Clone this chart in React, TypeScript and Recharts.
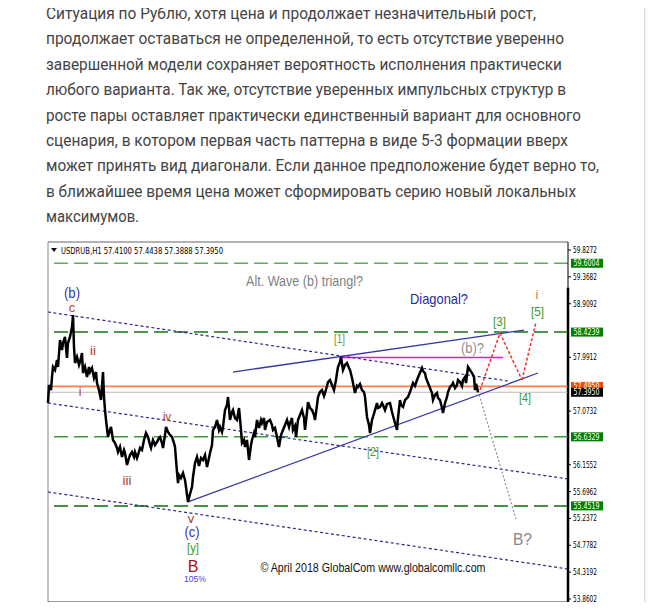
import React from "react";
import { ComposedChart, Line, XAxis, YAxis, ReferenceLine, ReferenceDot } from "recharts";

// USDRUB H1, bar index counted from 7 Feb 2018 and the traced price at that bar
const hours = [
  0, 1, 3, 4, 5, 7, 9, 10, 12, 14, 15, 17, 19, 20, 22, 24, 25, 26, 27, 29, 31, 32, 34, 35, 37, 39, 41, 42, 44, 46,
  48, 49, 51, 53, 55, 56, 57, 58, 60, 62, 63, 65, 67, 69, 70, 72, 74, 76, 77, 79, 81, 82, 84, 86, 87, 89, 90, 92,
  94, 96, 98, 100, 102, 103, 105, 107, 109, 111, 112, 114, 115, 117, 118, 120, 122, 124, 126, 127, 129, 130, 131,
  133, 135, 137, 138, 139, 140, 142, 144, 145, 147, 149, 151, 153, 155, 157, 159, 161, 162, 164, 165, 167, 169,
  171, 172, 174, 175, 177, 179, 180, 182, 184, 185, 187, 189, 191, 193, 194, 196, 197, 199, 201, 203, 204, 206,
  207, 209, 211, 213, 214, 216, 217, 219, 222, 224, 225, 227, 229, 231, 233, 235, 237, 239, 241, 242, 244, 245,
  247, 248, 250, 252, 254, 256, 257, 259, 260, 262, 264, 266, 267, 269, 270, 272, 274, 276, 277, 279, 280, 282,
  284, 286, 288, 289, 290, 292, 293, 295, 297, 299, 301, 302, 304, 305, 307, 309, 310, 312, 314, 316, 317, 319,
  321, 322, 324, 325, 327, 329, 330, 332, 334, 335, 337, 339, 342, 344, 347, 349, 350, 352, 353, 355, 357, 360,
  362, 365, 367, 369, 371, 374, 375, 377, 378, 380, 382, 384, 385, 387, 389, 390, 392, 394, 395, 397, 399, 400,
  402, 404, 405, 407, 409, 410, 412, 414, 415, 417, 418, 420, 422, 424, 426, 427, 428, 429, 430,
];
const price = [
  57.211, 57.519, 57.433, 57.656, 57.827, 57.775, 57.946, 57.827, 58.288, 58.117, 58.237, 58.34, 57.981, 58.237,
  58.34, 58.511, 58.716, 58.169, 57.895, 57.998, 57.861, 57.912, 58.066, 57.724, 57.827, 57.656, 57.827, 57.741,
  57.81, 57.639, 57.741, 57.553, 57.433, 57.262, 57.741, 57.314, 57.091, 56.921, 56.63, 56.75, 56.801, 56.579,
  56.527, 56.442, 56.373, 56.459, 56.288, 56.408, 56.356, 56.151, 56.271, 56.322, 56.373, 56.288, 56.373, 56.271,
  56.322, 56.442, 56.408, 56.579, 56.698, 56.63, 56.493, 56.442, 56.579, 56.493, 56.544, 56.613, 56.63, 56.527,
  56.442, 56.664, 56.801, 56.715, 56.664, 56.63, 56.527, 56.459, 56.031, 55.843, 55.98, 55.929, 56.014, 55.895,
  55.775, 55.639, 55.519, 55.656, 55.775, 55.946, 56.185, 56.288, 56.134, 56.271, 56.237, 56.322, 56.117, 56.271,
  56.356, 56.493, 56.75, 56.801, 56.921, 56.75, 56.801, 56.715, 56.801, 57.091, 57.177, 57.314, 56.921, 57.057,
  57.091, 56.955, 56.921, 57.126, 56.75, 56.527, 56.579, 56.459, 56.579, 56.237, 56.493, 56.579, 56.698, 56.63,
  56.921, 56.784, 56.921, 56.869, 56.955, 56.75, 56.886, 56.921, 56.835, 56.75, 56.784, 56.63, 56.459, 56.664,
  56.75, 56.835, 56.921, 56.801, 56.869, 56.955, 56.75, 56.818, 56.63, 56.921, 57.006, 57.091, 56.955, 56.75,
  57.057, 57.228, 57.126, 57.091, 57.006, 56.921, 57.177, 57.314, 57.399, 57.433, 57.331, 57.382, 57.502, 57.57,
  57.604, 57.519, 57.433, 57.604, 57.724, 57.827, 57.912, 57.998, 57.775, 57.861, 57.895, 57.81, 57.775, 57.639,
  57.553, 57.382, 57.502, 57.485, 57.536, 57.433, 57.399, 57.314, 56.972, 56.835, 56.698, 56.921, 56.972, 57.091,
  57.211, 57.126, 57.143, 57.211, 57.177, 57.091, 57.194, 57.211, 57.057, 56.869, 56.75, 56.955, 57.262, 57.177,
  57.143, 57.262, 57.314, 57.399, 57.553, 57.502, 57.604, 57.69, 57.81, 57.758, 57.724, 57.639, 57.553, 57.468,
  57.382, 57.262, 57.348, 57.382, 57.297, 57.262, 57.126, 57.04, 57.211, 57.314, 57.399, 57.485, 57.519, 57.553,
  57.468, 57.519, 57.604, 57.57, 57.502, 57.604, 57.656, 57.553, 57.827, 57.775, 57.724, 57.656, 57.433, 57.536,
  57.485, 57.395,
];

const timeTicks = [0, 52, 104, 156, 209, 261, 312, 364, 416];
const timeLabels = [
  "7 Feb 2018", "14 Feb 12:00", "20 Feb 21:00", "28 Feb 15:00", "7 Mar 09:00",
  "14 Mar 17:00", "21 Mar 11:00", "27 Mar 21:00", "3 Apr 20:00",
];
const priceTicks = [59.8272, 59.3682, 58.9092, 57.9912, 57.0732, 56.1552, 55.6962, 55.2372, 54.7782, 54.3192, 53.8602];
const greenLevels = [59.6004, 58.4239, 56.6329, 55.4519];
const greenColors = ["#5cae5c", "#167816", "#3c9a3c", "#0b6e0b"];
const askLevel = 57.495;
const bidLevel = 57.395;
const b1Level = 57.99;

// wave-count drawing objects, in (bar, price)
const upperWedge = [{ x: 185, y: 57.741 }, { x: 476, y: 58.459 }];
const lowerWedge = [{ x: 140, y: 55.519 }, { x: 490, y: 57.724 }];
const channelTop = [{ x: 0, y: 58.767 }, { x: 460, y: 57.587 }];
const channelMid = [{ x: 0, y: 57.211 }, { x: 520, y: 55.912 }];
const channelLow = [{ x: 0, y: 55.69 }, { x: 520, y: 54.373 }];
const altPath = [{ x: 430, y: 57.416 }, { x: 468, y: 55.228 }];
const mainPath = [
  { x: 432, y: 57.433 },
  { x: 452, y: 58.408 },
  { x: 474, y: 57.604 },
  { x: 488, y: 58.596 },
];

const notes = [
  { t: 24, p: 59.1, text: "(b)", color: "#3636a8", size: 14, w: 16 },
  { t: 24, p: 58.85, text: "c", color: "#c8412a", size: 13 },
  { t: 45, p: 58.1, text: "ii", color: "#a83a2a", size: 12, w: 6 },
  { t: 32, p: 57.4, text: "i", color: "#a83a2a", size: 12 },
  { t: 119, p: 56.972, text: "iv", color: "#a83a2a", size: 12, w: 8 },
  { t: 79, p: 55.878, text: "iii", color: "#a83a2a", size: 12, w: 9 },
  { t: 143, p: 55.245, text: "v", color: "#a83a2a", size: 13 },
  { t: 144, p: 55.006, text: "(c)", color: "#3636a8", size: 14, w: 15 },
  { t: 145, p: 54.749, text: "[y]", color: "#3a9a2a", size: 13, w: 12 },
  { t: 145, p: 54.424, text: "B", color: "#b01010", size: 16 },
  { t: 147, p: 54.202, text: "105%", color: "#4848d0", size: 9, w: 22 },
  { t: 256.5, p: 59.297, text: "Alt. Wave (b) triangl?", color: "#7f7f7f", size: 14, w: 117 },
  { t: 391, p: 59.006, text: "Diagonal?", color: "#2a2aa0", size: 15, w: 58 },
  { t: 489, p: 59.058, text: "i", color: "#c87a4a", size: 13 },
  { t: 489.5, p: 58.784, text: "[5]", color: "#3a9a2a", size: 13, w: 13 },
  { t: 451.5, p: 58.613, text: "[3]", color: "#3a9a2a", size: 13, w: 13 },
  { t: 291.5, p: 58.322, text: "[1]", color: "#6f9a2a", size: 13, w: 11 },
  { t: 424.5, p: 58.151, text: "(b)?", color: "#909090", size: 14, w: 23 },
  { t: 477, p: 57.297, text: "[4]", color: "#3a9a2a", size: 13, w: 12 },
  { t: 325, p: 56.39, text: "[2]", color: "#5a9a2a", size: 13, w: 12 },
  { t: 474.5, p: 54.869, text: "B?", color: "#888888", size: 16, w: 19 },
  { t: 325, p: 54.39, text: "© April 2018 GlobalCom www.globalcomllc.com", color: "#111111", size: 12, w: 225 },
];

const paragraph = [
  "Ситуация по Рублю, хотя цена и продолжает незначительный рост,",
  "продолжает оставаться не определенной, то есть отсутствие уверенно",
  "завершенной модели сохраняет вероятность исполнения практически",
  "любого варианта. Так же, отсутствие уверенных импульсных структур в",
  "росте пары оставляет практически единственный вариант для основного",
  "сценария, в котором первая часть паттерна в виде 5-3 формации вверх",
  "может принять вид диагонали. Если данное предположение будет верно то,",
  "в ближайшее время цена может сформировать серию новый локальных",
  "максимумов.",
];
const paragraphWidths = [490, 518, 516, 520, 535, 522, 553, 530, 93];

const Y_MIN = 53.8089;
const Y_MAX = 59.964;
const AXIS_FONT = "'DejaVu Sans', Tahoma, sans-serif";
const NOTE_FONT = "'Liberation Sans', Arial, sans-serif";

const PriceTick = ({ x, y, payload }: any) => (
  <text x={x} y={y + 3} fontSize={8} fill="#000" fontFamily={AXIS_FONT} textLength={24} lengthAdjust="spacingAndGlyphs">
    {Number(payload.value).toFixed(4)}
  </text>
);

// only the upper half of these labels shows above the window edge
const TimeTick = ({ x, payload }: any) => {
  const label = timeLabels[timeTicks.indexOf(payload.value)] || "";
  return (
    <text x={x + 2} y={609} fontSize={8} fill="#000" fontFamily={AXIS_FONT} textLength={label.length * 3.3} lengthAdjust="spacingAndGlyphs">
      {label}
    </text>
  );
};

const PriceBox = ({ viewBox, text, bg }: any) => {
  if (!viewBox) return null;
  const x = viewBox.x + viewBox.width + 3;
  const y = viewBox.y;
  return (
    <g>
      <rect x={x} y={y - 4.5} width={32} height={9} fill={bg} />
      <text x={x + 2.5} y={y + 3} fontSize={8} fill="#fff" fontFamily={AXIS_FONT} textLength={26} lengthAdjust="spacingAndGlyphs">
        {text}
      </text>
    </g>
  );
};

const noteShape = (n: any) => (props: any) => (
  <text
    x={props.cx}
    y={props.cy}
    textAnchor="middle"
    dominantBaseline="central"
    fontSize={n.size}
    fill={n.color}
    fontFamily={NOTE_FONT}
    textLength={n.w}
    lengthAdjust={n.w ? "spacingAndGlyphs" : undefined}
  >
    {n.text}
  </text>
);

export default function App() {
  const data = hours.map((t, i) => ({ t, price: price[i] }));

  return (
    <div style={{ position: "relative", width: 655, height: 610, margin: -8, background: "#fff", overflow: "hidden" }}>
      <div style={{ position: "absolute", left: 5, top: 0, width: 1, height: 610, background: "#e2e2e2" }} />
      <div style={{ position: "absolute", left: 644, top: 0, width: 11, height: 610, background: "#f6f6f6", borderLeft: "1px solid #dcdcdc" }} />

      <svg width={655} height={236} style={{ position: "absolute", left: 0, top: 0 }}>
        {paragraph.map((line, i) => (
          <text
            key={i}
            x={46}
            y={19 + i * 25.4}
            fontSize={17}
            fill="#444"
            fontFamily="Roboto, 'Noto Sans', sans-serif"
            textLength={paragraphWidths[i]}
            lengthAdjust="spacingAndGlyphs"
          >
            {line}
          </text>
        ))}
      </svg>

      <div style={{ position: "absolute", left: 0, top: 0 }}>
        <ComposedChart width={655} height={610} data={data} margin={{ top: 242, right: 0, bottom: 0, left: 48 }}>
          <XAxis
            dataKey="t"
            type="number"
            domain={[0, 520]}
            ticks={timeTicks}
            interval={0}
            height={8}
            tickSize={4}
            tickMargin={0}
            axisLine={{ stroke: "#333" }}
            tickLine={{ stroke: "#333" }}
            tick={<TimeTick />}
          />
          <YAxis
            orientation="right"
            type="number"
            domain={[Y_MIN, Y_MAX]}
            allowDataOverflow
            ticks={priceTicks}
            interval={0}
            width={87}
            tickSize={3}
            tickMargin={2}
            axisLine={{ stroke: "#000" }}
            tickLine={{ stroke: "#000" }}
            tick={<PriceTick />}
          />

          <ReferenceLine y={Y_MAX} stroke="#666" ifOverflow="visible" />
          <ReferenceLine x={0} stroke="#888" ifOverflow="visible" />
          <ReferenceLine
            segment={[{ x: 520, y: 59.18 }, { x: 520, y: Y_MIN }]}
            stroke="#000"
            strokeWidth={2.5}
            ifOverflow="visible"
          />

          {greenLevels.map((lv, i) => (
            <ReferenceLine
              key={lv}
              y={lv}
              stroke={greenColors[i]}
              strokeWidth={1.5}
              strokeDasharray="14 6"
              label={<PriceBox text={lv.toFixed(4)} bg="#008000" />}
            />
          ))}

          <ReferenceLine y={askLevel} stroke="#ff7f50" strokeWidth={1.6} label={<PriceBox text="57.4950" bg="#ff4500" />} />
          <ReferenceLine y={bidLevel} stroke="#bdbdbd" strokeWidth={1.2} label={<PriceBox text="57.3950" bg="#000" />} />
          <ReferenceLine segment={[{ x: 292, y: b1Level }, { x: 455, y: b1Level }]} stroke="#ff00ff" strokeWidth={1.5} />

          <ReferenceLine segment={channelTop} stroke="#28288f" strokeWidth={1.2} strokeDasharray="3 2.5" />
          <ReferenceLine segment={channelMid} stroke="#28288f" strokeWidth={1.2} strokeDasharray="3 2.5" />
          <ReferenceLine segment={channelLow} stroke="#28288f" strokeWidth={1.2} strokeDasharray="3 2.5" />
          <ReferenceLine segment={upperWedge} stroke="#3535a5" strokeWidth={1.3} />
          <ReferenceLine segment={lowerWedge} stroke="#3535a5" strokeWidth={1.3} />
          <ReferenceLine segment={altPath} stroke="#8a8a8a" strokeWidth={1.2} strokeDasharray="2 2" />
          {mainPath.slice(1).map((pt, i) => (
            <ReferenceLine key={i} segment={[mainPath[i], pt]} stroke="#ff2a2a" strokeWidth={1.5} strokeDasharray="3 2" />
          ))}

          <Line
            dataKey="price"
            type="linear"
            stroke="#000"
            strokeWidth={2.5}
            dot={false}
            activeDot={false}
            isAnimationActive={false}
          />

          {notes.map((n, i) => (
            <ReferenceDot key={i} x={n.t} y={n.p} r={1} ifOverflow="visible" shape={noteShape(n)} />
          ))}
        </ComposedChart>
      </div>

      <svg width={655} height={20} style={{ position: "absolute", left: 0, top: 242 }}>
        <polygon points="51,6 57,6 54,10" fill="#000" />
        <text x={61} y={11.5} fontSize={8.5} fill="#000" fontFamily={AXIS_FONT} textLength={162} lengthAdjust="spacingAndGlyphs">
          USDRUB,H1  57.4100 57.4438 57.3888 57.3950
        </text>
      </svg>
      <div style={{ position: "absolute", left: 0, top: 608, width: 644, height: 2, background: "#5a5a5a" }} />
    </div>
  );
}
